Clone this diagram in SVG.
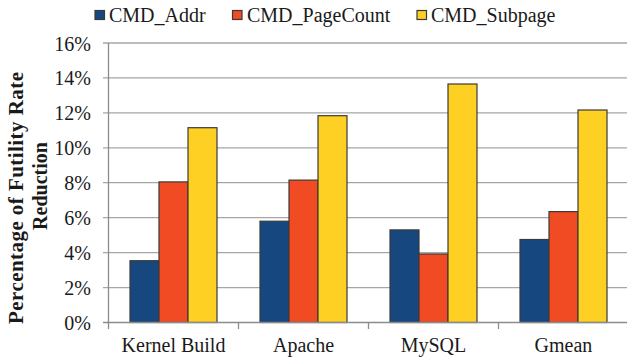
<svg xmlns="http://www.w3.org/2000/svg" width="627" height="360" viewBox="0 0 627 360" font-family="'Liberation Serif', 'Times New Roman', serif">
<style>
text{font-family:'Liberation Serif','Times New Roman',serif;font-size:20px;fill:#1a1a1a}
.grid{stroke:#a6a6a6;stroke-width:1.3;fill:none}
.axis{stroke:#8c8c8c;stroke-width:1.3;fill:none}
.bar{stroke:#3a3a3a;stroke-width:1.2}
.b{fill:#17477f}.r{fill:#f04b23}.y{fill:#fdd023}
.yl{text-anchor:end}
.xl{text-anchor:middle}
.title{font-weight:bold;text-anchor:middle}
</style>
<rect width="627" height="360" fill="#ffffff"/>
<g id="gridlines">
<line class="grid" x1="103" y1="43" x2="627" y2="43"/>
<line class="grid" x1="103" y1="77.9" x2="627" y2="77.9"/>
<line class="grid" x1="103" y1="112.8" x2="627" y2="112.8"/>
<line class="grid" x1="103" y1="147.8" x2="627" y2="147.8"/>
<line class="grid" x1="103" y1="182.7" x2="627" y2="182.7"/>
<line class="grid" x1="103" y1="217.7" x2="627" y2="217.7"/>
<line class="grid" x1="103" y1="252.6" x2="627" y2="252.6"/>
<line class="grid" x1="103" y1="287.6" x2="627" y2="287.6"/>
</g>
<g id="y-labels">
<text class="yl" x="91" y="50.5">16%</text>
<text class="yl" x="91" y="85.4">14%</text>
<text class="yl" x="91" y="120.3">12%</text>
<text class="yl" x="91" y="155.3">10%</text>
<text class="yl" x="91" y="190.2">8%</text>
<text class="yl" x="91" y="225.2">6%</text>
<text class="yl" x="91" y="260.1">4%</text>
<text class="yl" x="91" y="295.1">2%</text>
<text class="yl" x="91" y="330">0%</text>
</g>
<g id="y-title">
<text class="title" style="font-size:21px" transform="translate(23,198) rotate(-90)" textLength="252" lengthAdjust="spacing">Percentage of Futility Rate</text>
<text class="title" transform="translate(47,186) rotate(-90)">Reduction</text>
</g>
<g id="kernel-build">
<rect class="bar b" x="130" y="260.7" width="29" height="61.8"/>
<rect class="bar r" x="159" y="181.9" width="29" height="140.6"/>
<rect class="bar y" x="188" y="127.7" width="29" height="194.8"/>
<text class="xl" x="173.5" y="351.5">Kernel Build</text>
</g>
<g id="apache">
<rect class="bar b" x="260" y="221.2" width="29" height="101.3"/>
<rect class="bar r" x="289" y="180.1" width="29" height="142.4"/>
<rect class="bar y" x="318" y="115.7" width="29" height="206.8"/>
<text class="xl" x="303.5" y="351.5">Apache</text>
</g>
<g id="mysql">
<rect class="bar b" x="390" y="229.9" width="29" height="92.6"/>
<rect class="bar r" x="419" y="254" width="29" height="68.5"/>
<rect class="bar y" x="448" y="84" width="29" height="238.5"/>
<text class="xl" x="433.5" y="351.5">MySQL</text>
</g>
<g id="gmean">
<rect class="bar b" x="520" y="239.5" width="29" height="83"/>
<rect class="bar r" x="549" y="211.6" width="29" height="110.9"/>
<rect class="bar y" x="578" y="110" width="29" height="212.5"/>
<text class="xl" x="563.5" y="351.5">Gmean</text>
</g>
<g id="axes">
<line class="axis" x1="108.5" y1="43" x2="108.5" y2="329"/>
<line class="axis" x1="103" y1="322.5" x2="627" y2="322.5"/>
<line class="axis" x1="238.5" y1="322.5" x2="238.5" y2="329"/>
<line class="axis" x1="368.5" y1="322.5" x2="368.5" y2="329"/>
<line class="axis" x1="498.5" y1="322.5" x2="498.5" y2="329"/>
</g>
<g id="legend">
<rect class="bar b" x="95" y="10.5" width="9.5" height="9"/>
<text x="109" y="22">CMD_Addr</text>
<rect class="bar r" x="232.5" y="10.5" width="9.5" height="9"/>
<text x="247" y="22">CMD_PageCount</text>
<rect class="bar y" x="417" y="10.5" width="9.5" height="9"/>
<text x="431" y="22">CMD_Subpage</text>
</g>
</svg>
